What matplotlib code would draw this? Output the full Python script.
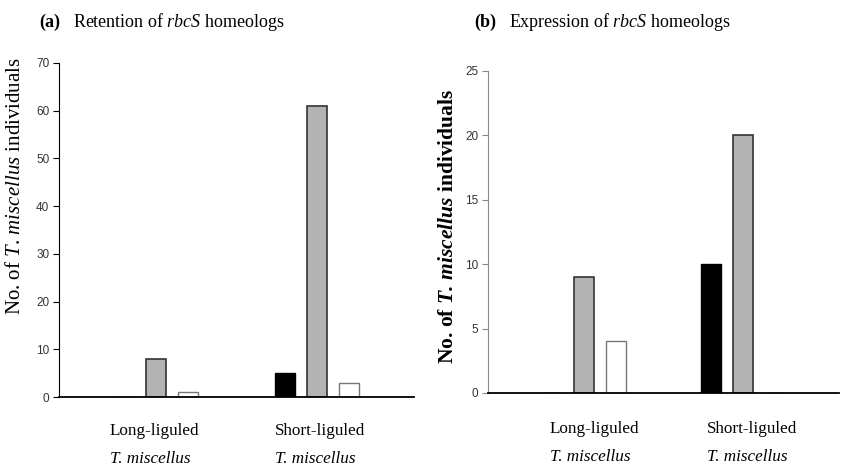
import matplotlib.pyplot as plt
import numpy as np

plt.rcParams['font.family'] = ['Liberation Serif', 'DejaVu Serif']
plt.rcParams['mathtext.fontset'] = 'custom'
plt.rcParams['mathtext.rm'] = 'Liberation Serif'
plt.rcParams['mathtext.it'] = 'Liberation Serif:italic'
plt.rcParams['mathtext.bf'] = 'Liberation Serif:bold'
plt.rcParams['mathtext.bfit'] = 'Liberation Serif:bold:italic'

groups = ['Long-liguled', 'Short-liguled']
species = 'T. miscellus'

# (a) retention of rbcS homeologs
ret_black = [0, 5]
ret_gray = [8, 61]
ret_white = [1, 3]

# (b) expression of rbcS homeologs
exp_black = [0, 10]
exp_gray = [9, 20]
exp_white = [4, 0]

fig = plt.figure(figsize=(8.45, 4.7), dpi=100)
ax1 = fig.add_axes([0.0698, 0.155, 0.420, 0.711])
ax2 = fig.add_axes([0.5775, 0.164, 0.4154, 0.685])

tick_family = ['Liberation Sans Narrow', 'Liberation Sans']


def draw(ax, black, gray, white, ymax, step, label_x, label_y, spine_col):
    base = np.arange(len(black)) * 5
    w = 0.62
    ax.bar(base, black, w, color='black', edgecolor='black', linewidth=1)
    ax.bar(base + 1, gray, w, color='#b3b3b3', edgecolor='#333333', linewidth=1.2)
    ax.bar(base + 2, white, w, color='white', edgecolor='#777777', linewidth=1)
    ax.set_xlim(-2.03, 9.03)
    ax.set_ylim(0, ymax)
    ax.set_yticks(np.arange(0, ymax + 1, step))
    for t in ax.get_yticklabels():
        t.set_fontfamily(tick_family)
        t.set_fontsize(8.5)
    ax.tick_params(axis='y', direction='out', length=4, width=0.8, pad=3, colors=spine_col, labelcolor='#333333')
    ax.set_xticks([])
    ax.spines['top'].set_visible(False)
    ax.spines['right'].set_visible(False)
    ax.spines['left'].set_color(spine_col)
    ax.spines['bottom'].set_color('black')
    ax.spines['bottom'].set_linewidth(1.3)
    for x, g in zip(label_x, groups):
        ax.text(x, label_y[0], g, transform=ax.get_xaxis_transform(), ha='left', va='center', fontsize=12.3)
        ax.text(x, label_y[1], species, transform=ax.get_xaxis_transform(),
                ha='left', va='center', fontsize=12.3, style='italic')


draw(ax1, ret_black, ret_gray, ret_white, 70, 10, [-0.44, 4.69], [-0.10, -0.185], 'black')
draw(ax2, exp_black, exp_gray, exp_white, 25, 5, [-0.08, 4.86], [-0.112, -0.198], '#888888')

fig.text(0.047, 0.953, '(a)', fontsize=13, fontweight='bold', va='center')
fig.text(0.086, 0.953, 'Retention of $\\it{rbcS}$ homeologs', fontsize=13, va='center')
fig.text(0.561, 0.953, '(b)', fontsize=13, fontweight='bold', va='center')
fig.text(0.602, 0.953, 'Expression of $\\it{rbcS}$ homeologs', fontsize=13, va='center')

fig.text(0.018, 0.604, 'No. of $\\it{T.\\,miscellus}$ individuals', rotation=90,
         fontsize=15, ha='center', va='center')
fig.text(0.530, 0.519, 'No. of $\\mathbfit{T.\\,miscellus}$ individuals', rotation=90,
         fontsize=15.5, fontweight='bold', ha='center', va='center')

fig.savefig('out.png', dpi=100)
